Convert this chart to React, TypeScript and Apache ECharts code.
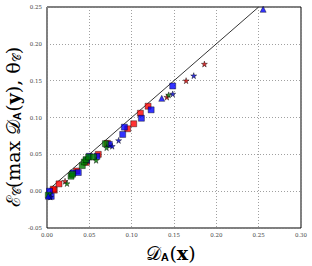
import React, { useEffect, useRef } from "react";
import * as echarts from "echarts";

const xTicks = [0, 0.05, 0.1, 0.15, 0.2, 0.25, 0.3];
const yTicks = [-0.05, 0, 0.05, 0.1, 0.15, 0.2, 0.25];

const diagonal: [number, number][] = [[0, 0], [0.25, 0.25]];

const redSquares: [number, number][] = [
  [0.0086, 0.0014], [0.0074, 0.0027], [0.0142, 0.0099], [0.035, 0.0274],
  [0.0465, 0.039], [0.0606, 0.05], [0.0713, 0.0649], [0.0953, 0.0847],
  [0.1024, 0.0915], [0.1103, 0.1058], [0.1194, 0.1153],
];
const blueSquares: [number, number][] = [
  [0.003, 0.0], [0.005, -0.007], [0.0307, 0.0247], [0.037, 0.0253],
  [0.0468, 0.0419], [0.05, 0.0473], [0.059, 0.0473], [0.0736, 0.0635],
  [0.0894, 0.077], [0.0914, 0.0869], [0.1115, 0.099], [0.123, 0.1104],
  [0.1485, 0.1428],
];
const greenSquares: [number, number][] = [
  [0.0015, -0.0054], [0.0284, 0.0203], [0.03, 0.023], [0.0417, 0.0347],
  [0.0441, 0.0396], [0.0461, 0.0428], [0.0492, 0.0464], [0.055, 0.0464],
  [0.069, 0.0645],
];
const redStars: [number, number][] = [
  [0.0213, 0.0135], [0.1416, 0.1277], [0.1643, 0.15], [0.1859, 0.1726],
];
const greenStars: [number, number][] = [
  [0.0236, 0.0104], [0.058, 0.0419], [0.0704, 0.059], [0.1437, 0.1307],
];
const blueStars: [number, number][] = [
  [0.004, -0.008], [0.077, 0.061], [0.0846, 0.0689], [0.1485, 0.132],
  [0.1733, 0.1568],
];
const blueTriangles: [number, number][] = [
  [0.0015, -0.0068], [0.1355, 0.126], [0.2553, 0.2469],
];

const STAR =
  "path://M50,0 L61,35 L98,35 L68,57 L79,91 L50,70 L21,91 L32,57 L2,35 L39,35 Z";

const fmt = (v: number) => v.toFixed(2);

export default function App() {
  const ref = useRef<HTMLDivElement>(null);
  useEffect(() => {
    if (!ref.current) return;
    const chart = echarts.init(ref.current, undefined, { renderer: "svg" });
    const sq = (name: string, data: [number, number][], color: string) => ({
      name,
      type: "scatter",
      data,
      symbol: "rect",
      symbolSize: 6,
      itemStyle: { color, borderColor: "#000", borderWidth: 0.5 },
      z: 3,
    });
    const st = (name: string, data: [number, number][], color: string) => ({
      name,
      type: "scatter",
      data,
      symbol: STAR,
      symbolSize: 6,
      itemStyle: { color, borderColor: "#000", borderWidth: 0.5 },
      z: 4,
    });
    chart.setOption({
      animation: false,
      backgroundColor: "#fff",
      grid: {
        left: 47,
        right: 11,
        top: 7,
        bottom: 38,
        show: true,
        borderColor: "#000",
        borderWidth: 1,
      },
      xAxis: {
        type: "value",
        min: xTicks[0],
        max: xTicks[xTicks.length - 1],
        interval: 0.05,
        axisLine: { show: false },
        axisTick: { show: false },
        axisLabel: {
          formatter: fmt,
          fontSize: 5.5,
          fontFamily: "DejaVu Serif",
          color: "#444",
          margin: 4,
        },
        splitLine: { show: true, lineStyle: { type: [1, 2], color: "#888", width: 0.8 } },
      },
      yAxis: {
        type: "value",
        min: yTicks[0],
        max: yTicks[yTicks.length - 1],
        interval: 0.05,
        axisLine: { show: false },
        axisTick: { show: false },
        axisLabel: {
          formatter: fmt,
          fontSize: 5.5,
          fontFamily: "DejaVu Serif",
          color: "#444",
          margin: 5,
        },
        splitLine: { show: true, lineStyle: { type: [1, 2], color: "#888", width: 0.8 } },
      },
      graphic: [
        {
          type: "text",
          x: 13,
          y: 127,
          rotation: Math.PI / 2,
          style: {
            text: "{a|ℰ}{s|𝒞}{a|(max }{a|𝒟}{s|𝐀}{a|(}{b|𝐲}{a|), θ}{s|𝒞}{a|)}",
            align: "center",
            verticalAlign: "middle",
            rich: {
              a: { fontSize: 19, fontFamily: "DejaVu Serif", fill: "#000" },
              b: { fontSize: 19, fontFamily: "DejaVu Serif", fill: "#000", fontWeight: "bold" },
              s: { fontSize: 11, fontFamily: "DejaVu Serif", fill: "#000", padding: [9, 0, 0, 0] },
            },
          },
        },
        {
          type: "text",
          x: 171,
          y: 253,
          style: {
            text: "{a|𝒟}{s|𝐀}{a|(}{b|𝐱}{a|)}",
            align: "center",
            verticalAlign: "middle",
            rich: {
              a: { fontSize: 19, fontFamily: "DejaVu Serif", fill: "#000", lineHeight: 20 },
              b: { fontSize: 19, fontFamily: "DejaVu Serif", fill: "#000", fontWeight: "bold", lineHeight: 20 },
              s: { fontSize: 11, fontFamily: "DejaVu Serif", fill: "#000", padding: [8, 0, 0, 0], lineHeight: 20 },
            },
          },
        },
      ],
      series: [
        {
          name: "diag",
          type: "line",
          data: diagonal,
          symbol: "none",
          lineStyle: { color: "#000", width: 0.8 },
          z: 2,
        },
        sq("redSq", redSquares, "#ff0000"),
        sq("blueSq", blueSquares, "#0000ff"),
        sq("greenSq", greenSquares, "#008000"),
        st("redStar", redStars, "#cc0000"),
        st("greenStar", greenStars, "#008000"),
        st("blueStar", blueStars, "#0000cc"),
        {
          name: "blueTri",
          type: "scatter",
          data: blueTriangles,
          symbol: "triangle",
          symbolSize: 6,
          itemStyle: { color: "#0000ff", borderColor: "#000", borderWidth: 0.5 },
          z: 4,
        },
      ],
    });
    return () => chart.dispose();
  }, []);
  return (
    <div
      ref={ref}
      style={{ position: "fixed", left: 0, top: 0, width: 312, height: 266 }}
    />
  );
}
